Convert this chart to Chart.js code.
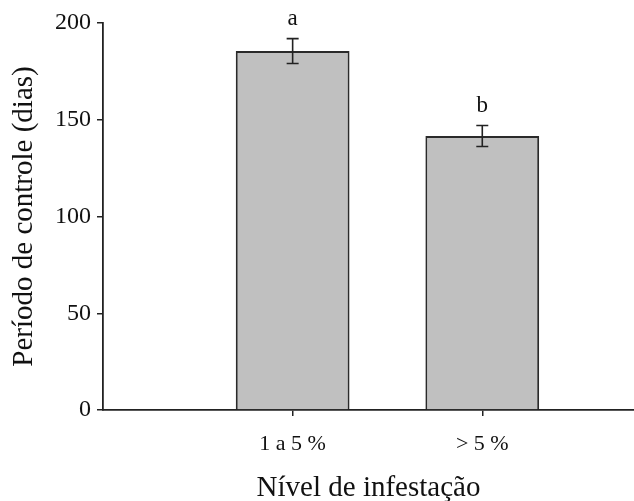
<!DOCTYPE html>
<html>
<head>
<meta charset="utf-8">
<script src="https://cdn.jsdelivr.net/npm/chart.js@4"></script>
<style>
  html, body { margin: 0; padding: 0; background: #fff; }
  #wrap { width: 634px; height: 501px; }
</style>
</head>
<body>
<div id="wrap"><canvas id="chart" width="634" height="501"></canvas></div>
<script>
// data
var categories = ['1 a 5 %', '> 5 %'];
var positions = [1, 2];
var means = [185.5, 141.6];
var errors = [6.4, 5.4];
var letters = ['a', 'b'];
var yTicks = [0, 50, 100, 150, 200];

var serif = 'Liberation Serif, Times New Roman, Times, serif';

// error bars and significance letters
var extras = {
    id: 'extras',
    afterDatasetsDraw: function(chart) {
        var ctx = chart.ctx;
        var xs = chart.scales.x, ys = chart.scales.y;
        ctx.save();
        ctx.strokeStyle = '#222';
        ctx.lineWidth = 1.6;
        for (var i = 0; i < means.length; i++) {
            var x = xs.getPixelForValue(positions[i]);
            var top = ys.getPixelForValue(means[i] + errors[i]);
            var bot = ys.getPixelForValue(means[i] - errors[i]);
            ctx.beginPath();
            ctx.moveTo(x, top); ctx.lineTo(x, bot);
            ctx.moveTo(x - 6, top); ctx.lineTo(x + 6, top);
            ctx.moveTo(x - 6, bot); ctx.lineTo(x + 6, bot);
            ctx.stroke();
            ctx.fillStyle = '#111';
            ctx.font = '23px ' + serif;
            ctx.textAlign = 'center';
            ctx.textBaseline = 'bottom';
            ctx.fillText(letters[i], x, top - 8);
        }
        ctx.restore();
    }
};

var chartConfig = {
    type: 'bar',
    data: {
        datasets: [{
            data: positions.map(function(p, i) { return { x: p, y: means[i] }; }),
            backgroundColor: '#c0c0c0',
            borderColor: '#2a2a2a',
            borderWidth: 2,
            borderSkipped: 'bottom',
            barPercentage: 0.6,
            categoryPercentage: 1
        }]
    },
    options: {
        responsive: false,
        animation: false,
        events: [],
        layout: { padding: { top: 23, right: 0, left: 0, bottom: 0 } },
        plugins: { legend: { display: false }, tooltip: { enabled: false } },
        scales: {
            x: {
                type: 'linear',
                min: 0,
                max: 2.8,
                offset: false,
                afterBuildTicks: function(scale) {
                    scale.ticks = positions.map(function(p) { return { value: p }; });
                },
                afterFit: function(scale) { scale.height = 91; },
                grid: { offset: false, drawOnChartArea: false, tickLength: 6, color: '#222', lineWidth: 1.5 },
                border: { color: '#222', width: 1.8 },
                ticks: {
                    autoSkip: false,
                    maxRotation: 0,
                    padding: 15,
                    color: '#111',
                    font: { family: serif, size: 22 },
                    callback: function(v) {
                        var i = positions.indexOf(v);
                        return i >= 0 ? categories[i] : '';
                    }
                },
                title: {
                    display: true,
                    text: 'Nível de infestação',
                    color: '#111',
                    font: { family: serif, size: 29, lineHeight: 1 },
                    padding: { top: 0, bottom: -2 }
                }
            },
            y: {
                min: 0,
                max: 200,
                afterBuildTicks: function(scale) {
                    scale.ticks = yTicks.map(function(v) { return { value: v }; });
                },
                afterFit: function(scale) { scale.width = 103; },
                grid: { drawOnChartArea: false, tickLength: 6, color: '#222', lineWidth: 1.5 },
                border: { color: '#222', width: 1.8 },
                ticks: {
                    padding: 6,
                    color: '#111',
                    font: { family: serif, size: 24 }
                },
                title: {
                    display: true,
                    text: 'Período de controle (dias)',
                    color: '#111',
                    font: { family: serif, size: 29, lineHeight: 1 },
                    padding: { top: 10, bottom: 0 }
                }
            }
        }
    },
    plugins: [extras]
};

var chart = new Chart(document.getElementById('chart').getContext('2d'), chartConfig);
</script>
</body>
</html>
